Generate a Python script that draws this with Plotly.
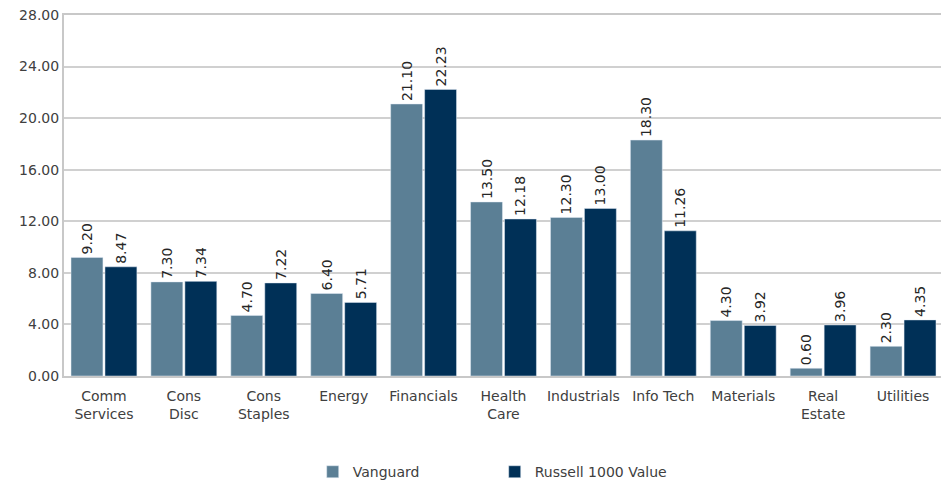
import plotly.graph_objects as go

categories = ["Comm<br>Services", "Cons<br>Disc", "Cons<br>Staples", "Energy", "Financials",
              "Health<br>Care", "Industrials", "Info Tech", "Materials", "Real<br>Estate", "Utilities"]
vanguard = [9.20, 7.30, 4.70, 6.40, 21.10, 13.50, 12.30, 18.30, 4.30, 0.60, 2.30]
russell = [8.47, 7.34, 7.22, 5.71, 22.23, 12.18, 13.00, 11.26, 3.92, 3.96, 4.35]
y_ticks = [0, 4, 8, 12, 16, 20, 24, 28]

font_family = "DejaVu Sans, sans-serif"
text_color = "#404040"

fig = go.Figure()
fig.add_trace(go.Bar(
    x=categories, y=vanguard, name="Vanguard", marker_color="#5B7F95",
    text=[f"{v:.2f}" for v in vanguard], textposition="outside", textangle=-90,
    constraintext="none",
    textfont=dict(size=14, color="#262626", family=font_family), cliponaxis=False,
))
fig.add_trace(go.Bar(
    x=categories, y=russell, name="Russell 1000 Value", marker_color="#003057",
    text=[f"{v:.2f}" for v in russell], textposition="outside", textangle=-90,
    constraintext="none",
    textfont=dict(size=14, color="#262626", family=font_family), cliponaxis=False,
))

# page body has an 8px margin, so the figure is offset by (8, 8)
fig.update_layout(
    width=941, height=476,
    margin=dict(l=56, r=6, t=7, b=108, autoexpand=False),
    paper_bgcolor="white", plot_bgcolor="white",
    barmode="group", bargap=0.15, bargroupgap=0.06,
    font=dict(family=font_family, size=14, color=text_color),
    showlegend=True,
    legend=dict(orientation="h", x=0.49, xanchor="center", y=-0.222, yanchor="top",
                entrywidth=137, font=dict(size=14, color=text_color)),
)
fig.update_xaxes(showline=True, linecolor="#C8C8C8", linewidth=2, mirror=True,
                 tickfont=dict(size=14, color=text_color), ticks="",
                 ticklabelstandoff=6, automargin=False, ticklabeloverflow="allow")
fig.update_yaxes(range=[0, 28], tickvals=y_ticks, tickformat=".2f",
                 showgrid=True, gridcolor="#D0D0D0", gridwidth=2,
                 showline=True, linecolor="#C8C8C8", linewidth=2, mirror=True,
                 zeroline=False, tickfont=dict(size=14, color=text_color), ticks="",
                 automargin=False, ticklabeloverflow="allow")

fig.write_html("out.html")
